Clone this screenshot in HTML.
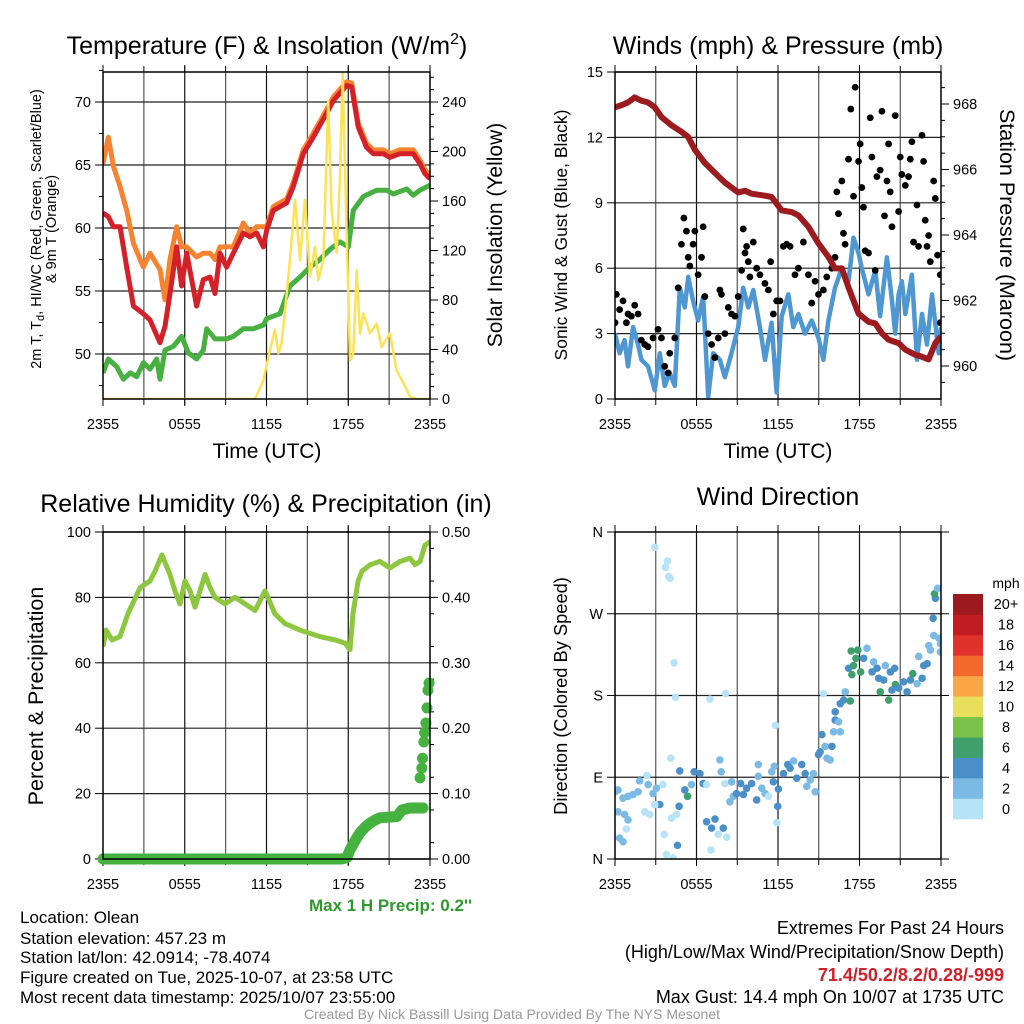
<!DOCTYPE html>
<html><head><meta charset="utf-8"><style>
html,body{margin:0;padding:0;background:#fff;}
svg{display:block;font-family:"Liberation Sans",Arial,sans-serif;}
</style></head><body>
<svg id="c" width="1024" height="1024" viewBox="0 0 1024 1024">
<defs>
<clipPath id="cp1"><rect x="103" y="72" width="327" height="327"/></clipPath>
<clipPath id="cp2"><rect x="615" y="72" width="326" height="327"/></clipPath>
<clipPath id="cp3"><rect x="103" y="532" width="327" height="327"/></clipPath>
<clipPath id="cp4"><rect x="615" y="532" width="326" height="327"/></clipPath>
</defs>
<g id="g1"></g>
<g id="g2"></g>
<g id="g3"></g>
<g id="g4"></g>

<text x="267" y="54" text-anchor="middle" font-size="25">Temperature (F) &amp; Insolation (W/m<tspan dy="-10" font-size="16">2</tspan><tspan dy="10">)</tspan></text>
<text transform="translate(41,229) rotate(-90)" text-anchor="middle" font-size="14.5">2m T, T<tspan dy="3" font-size="11">d</tspan><tspan dy="-3">, HI/WC (Red, Green, Scarlet/Blue)</tspan></text>
<text transform="translate(56,229) rotate(-90)" text-anchor="middle" font-size="14.5">&amp; 9m T (Orange)</text>
<text transform="translate(502,235) rotate(-90)" text-anchor="middle" font-size="21">Solar Insolation (Yellow)</text>
<text x="267" y="458" text-anchor="middle" font-size="21">Time (UTC)</text>

<text x="778" y="54" text-anchor="middle" font-size="25">Winds (mph) &amp; Pressure (mb)</text>
<text transform="translate(567,235) rotate(-90)" text-anchor="middle" font-size="17.5">Sonic Wind &amp; Gust (Blue, Black)</text>
<text transform="translate(1000,235) rotate(90)" text-anchor="middle" font-size="21.5">Station Pressure (Maroon)</text>
<text x="778" y="458" text-anchor="middle" font-size="21">Time (UTC)</text>

<text x="266" y="512" text-anchor="middle" font-size="25">Relative Humidity (%) &amp; Precipitation (in)</text>
<text transform="translate(43,696) rotate(-90)" text-anchor="middle" font-size="21.5">Percent &amp; Precipitation</text>
<text x="472" y="911" text-anchor="end" font-size="17" font-weight="bold" fill="#2e9a2e">Max 1 H Precip: 0.2''</text>

<text x="778" y="505" text-anchor="middle" font-size="25">Wind Direction</text>
<text transform="translate(567,696) rotate(-90)" text-anchor="middle" font-size="18.3">Direction (Colored By Speed)</text>
<g id="cbar"></g>
<text x="1006" y="588" text-anchor="middle" font-size="14">mph</text>

<g font-size="17">
<text x="20" y="923">Location: Olean</text>
<text x="20" y="944">Station elevation: 457.23 m</text>
<text x="20" y="963">Station lat/lon: 42.0914; -78.4074</text>
<text x="20" y="983">Figure created on Tue, 2025-10-07, at 23:58 UTC</text>
<text x="20" y="1003">Most recent data timestamp: 2025/10/07 23:55:00</text>
</g>
<g font-size="18" text-anchor="end">
<text x="1004" y="934">Extremes For Past 24 Hours</text>
<text x="1004" y="958">(High/Low/Max Wind/Precipitation/Snow Depth)</text>
<text x="1004" y="981" font-weight="bold" fill="#d0202a">71.4/50.2/8.2/0.28/-999</text>
<text x="1004" y="1003">Max Gust: 14.4 mph On 10/07 at 1735 UTC</text>
</g>
<text x="512" y="1019" text-anchor="middle" font-size="14" fill="#999">Created By Nick Bassill Using Data Provided By The NYS Mesonet</text>
</svg>
<script>
// ---- Panel 1 data ----
const tempHours=[0,0.39,0.76,1.25,1.74,2.23,2.96,3.45,4.18,4.55,4.92,5.41,5.77,6.14,6.87,7.36,7.85,8.22,8.59,9.07,9.56,10.3,10.79,11.28,11.77,12.01,12.5,13.48,13.97,14.7,15.43,16.41,16.9,17.88,18.25,18.74,19.35,19.84,20.57,21.06,21.8,22.77,23.26,23.63,24];
const tempRed=[61.2,60.9,60.1,60.1,56.9,53.8,53.2,52.7,50.9,52.2,54.8,58.5,55.4,58,53.8,55.9,56.1,54.8,58,56.9,58,59.6,59.3,59.6,58.5,59.8,61.4,62,63.3,65.9,67.2,69.1,70.1,71.3,71.2,68,66.4,65.9,65.9,65.6,65.9,65.9,65.1,64.3,63.9];
const temp9m=[65.1,67.2,64.9,63.3,61.4,58.8,56.9,58,56.7,54.3,57.5,60.1,58.5,58.5,57.7,58,58,57.5,58.5,58.5,58.5,60.4,59.6,60.1,60.1,60.1,61.7,62.3,63.6,66.2,67.5,69.4,70.4,71.6,71.5,68.3,66.7,66.2,66.2,65.9,66.2,66.2,65.4,64.6,64.2];
const dewHours=[0,0.39,1.0,1.5,2.0,2.47,2.96,3.45,3.94,4.18,4.55,5.16,5.77,6.26,6.87,7.36,7.61,8.22,9.07,9.56,10.3,11.03,11.77,12.01,12.99,13.72,14.46,15.19,15.92,16.66,17.39,18.0,18.37,19.11,20.08,20.82,21.31,22.28,22.77,23.26,24];
const dewpoint=[48.5,49.6,49,48,48.5,48.2,49.3,48.8,49.6,48,50.3,50.6,51.4,50.1,49.6,50.3,52,51.2,51.2,51.4,52,52,52.3,52.8,53.2,55.4,56.1,56.9,57.5,58.3,58.9,58.5,61.4,62.5,63,63,62.7,63.1,62.6,63,63.4];
const solarHours=[0,11.15,11.77,12.26,12.62,12.87,13.11,13.48,13.72,14.09,14.46,14.82,15.19,15.56,15.8,16.17,16.53,16.78,17.15,17.39,17.59,17.88,18.13,18.37,18.62,18.86,19.11,19.6,20.08,20.45,21.06,21.55,22.04,22.53,23.02,24];
const solar=[0,0,15,40,56,37,45,85,112,161,112,161,99,123,96,112,241,152,118,179,263,134,31,37,104,53,69,53,61,42,53,23,13,2,0,0];
// ---- Panel 2 data ----
const windHours=[0,0.34,0.71,0.96,1.33,1.7,1.94,2.43,2.93,3.3,3.66,4.03,4.4,4.77,5.14,5.39,5.75,6.12,6.49,6.86,7.23,7.72,8.09,8.58,9.07,9.44,9.81,10.18,10.67,11.04,11.53,11.9,12.27,12.76,13.13,13.5,13.99,14.48,14.98,15.34,15.71,16.2,16.7,17.19,17.56,17.93,18.17,18.66,19.16,19.52,20.02,20.39,20.63,20.88,21.12,21.37,21.86,22.23,22.6,22.97,23.34,23.83,24];
const windSpeed=[3.0,2.1,2.7,1.5,3.3,2.5,1.8,1.5,0.4,2.1,0.6,1.2,0.6,5.1,4.2,5.6,4.5,3.6,4.7,0.1,2.1,1.8,1.0,2.1,3.3,5.1,4.2,5.0,3.3,1.8,3.5,0.3,3.8,4.8,3.3,3.9,3.0,3.6,2.8,1.8,3.6,5.1,6.0,5.4,7.4,6.7,6.0,4.8,5.9,3.8,6.5,4.5,3.0,4.8,5.4,3.9,5.7,1.8,3.9,2.5,4.8,2.1,3.3];
const gustHours=[0,0.1,0.34,0.59,0.84,0.96,1.2,1.45,1.7,1.94,2.19,2.43,2.8,3.17,3.42,3.66,3.91,4.03,4.4,4.65,4.89,5.07,5.26,5.39,5.51,5.75,5.88,6.12,6.37,6.49,6.61,6.86,7.11,7.35,7.6,7.72,7.84,8.09,8.34,8.58,8.83,9.07,9.32,9.44,9.57,9.69,9.81,9.93,10.18,10.43,10.67,11.04,11.29,11.46,11.66,11.9,12.15,12.39,12.64,12.89,13.25,13.5,13.87,14.24,14.48,14.73,14.98,15.34,15.59,15.96,16.2,16.33,16.45,16.7,16.82,16.94,17.19,17.36,17.56,17.68,17.93,18.05,18.17,18.29,18.42,18.66,18.79,18.91,19.16,19.28,19.52,19.65,19.84,20.02,20.14,20.26,20.39,20.63,20.88,21.0,21.12,21.37,21.61,21.74,21.86,21.98,22.23,22.35,22.6,22.72,22.84,22.97,23.09,23.21,23.46,23.58,23.75,23.95,23.95];
const gustSpeed=[3.5,4.8,4.1,4.5,3.5,3.9,3.8,4.3,3.9,2.7,2.5,2.4,2.8,3.2,2.8,1.5,1.2,2.1,2.8,5.1,7.1,8.3,7.7,6.5,6.1,7.1,7.7,5.7,6.5,7.9,4.7,3.0,2.5,1.9,2.8,5.0,4.8,3.0,4.2,3.9,3.8,4.7,5.9,7.8,6.7,7.0,6.3,5.6,7.2,6.0,5.7,5.3,5.0,6.3,3.9,4.5,4.5,7.0,7.1,7.0,5.7,6.0,7.2,5.7,4.4,5.4,4.8,5.0,5.6,6.0,6.5,9.5,8.5,10.0,7.6,7.1,11.0,13.3,9.3,14.3,10.9,11.7,9.7,8.8,6.8,6.7,12.9,11.1,5.9,10.2,10.5,13.2,8.4,10.0,11.7,9.5,7.9,13.0,8.6,11.1,10.3,9.8,10.2,11.0,11.8,7.2,8.9,7.0,12.1,10.9,8.2,7.0,7.5,6.3,10.0,9.2,6.6,5.7,3.5];
const presHours=[0,0.47,0.96,1.45,1.94,2.43,2.93,3.42,4.16,4.89,5.38,5.88,6.61,7.35,8.09,9.07,9.57,10.06,11.04,11.53,12.27,13.01,13.5,14.24,14.98,15.71,16.2,16.7,17.19,17.93,18.66,19.16,19.65,20.14,20.88,21.37,22.11,22.48,23.09,23.58,24];
const pressure=[967.9,967.96,968.05,968.2,968.1,968.05,967.9,967.6,967.35,967.15,967.0,966.6,966.2,965.9,965.6,965.3,965.35,965.26,965.2,965.16,964.75,964.7,964.6,964.25,963.74,963.33,962.98,962.98,962.4,961.6,961.35,961.3,961.0,960.8,960.7,960.5,960.34,960.3,960.2,960.7,960.9];
// ---- Panel 3 data ----
const rhHours=[0,0.22,0.66,1.25,1.83,2.72,3.45,3.82,4.33,4.62,4.92,5.28,5.65,6.02,6.39,6.75,7.12,7.49,7.85,8.22,8.95,9.69,10.42,11.16,11.89,12.62,13.36,14.46,15.93,17.03,17.76,18.13,18.35,18.72,19.01,19.6,20.33,21.06,21.8,22.53,22.9,23.27,23.63,24];
const rh=[65,70,67,68,75,83,85,88,93,90,87,82,78,85,82,77,82,87,83,80,78,80,78,76,82,75,72,70,68,67,66,64,75,85,88,90,91,89,91,92,90,91,96,97];
const precipHours=[0,2,4,6,8,10,12,14,16,17.5,17.9,18.13,18.5,18.86,19.2,19.6,20.0,20.33,21.0,21.58,21.94,22.53,23.0,23.49];
const precip=[0,0,0,0,0,0,0,0,0,0,0.002,0.014,0.028,0.04,0.048,0.055,0.06,0.063,0.064,0.065,0.075,0.078,0.078,0.078];
const stackHours=[23.27,23.4,23.45,23.55,23.6,23.7,23.78,23.85,23.93];
const stackPrecip=[0.124,0.139,0.154,0.179,0.193,0.208,0.231,0.258,0.269];
// ---- Panel 4 data ----
const dirHours=[2.93,3.86,3.71,3.96,4.06,4.35,4.45,6.99,8.14,11.81,4.11,2.36,3.52,0,0.22,0.59,0.96,1.33,1.70,1.82,2.44,2.80,3.05,3.30,0.71,0.96,0.34,0.59,0.22,0.84,2.19,2.56,2.93,4.16,4.53,3.62,3.79,4.28,4.60,4.77,4.72,5.14,5.34,5.63,5.83,6.25,6.49,6.74,6.74,7.36,7.11,7.60,7.97,8.22,7.06,7.72,7.82,8.09,8.59,8.46,8.71,8.95,9.25,9.45,9.69,10.06,10.43,10.55,10.55,10.80,11.05,11.29,11.54,11.73,11.66,12.03,11.98,11.91,12.40,12.72,12.89,13.14,13.38,13.75,14.00,14.12,14.37,14.61,14.74,14.98,15.10,15.23,15.47,15.60,15.84,15.97,16.09,16.21,16.46,16.58,16.21,16.58,16.83,16.95,15.35,17.32,17.20,17.44,17.56,17.74,17.39,17.88,18.08,18.30,18.55,18.92,19.04,19.29,19.41,19.78,19.90,20.27,20.59,20.64,19.53,20.15,20.39,20.89,21.25,21.50,21.75,21.92,22.24,22.36,22.61,22.73,22.98,23.10,23.22,23.47,23.84,23.96,23.96,23.42,23.59,23.52,23.76];
const dirDeg=[343,328,321,311,309,216,178,176,182,147,111,92,82,74,76,67,69,71,74,86,82,72,78,60,49,43,23,19,52,33,52,49,60,45,49,27,5,1,15,97,58,76,69,82,96,94,83,82,41,44,34,27,34,24,10,109,96,83,85,63,69,72,83,71,78,83,65,104,91,78,72,69,96,102,85,77,58,40,94,104,100,108,89,104,94,80,87,94,74,115,118,137,124,111,109,124,140,153,151,140,162,171,175,184,182,174,210,203,213,221,229,230,206,221,232,206,217,210,199,197,213,206,210,192,184,175,186,188,195,184,197,204,193,223,199,213,215,235,230,246,243,237,228,265,287,292,298];
const dirSpeed=[1,1,1,1,1,1,1,1,1,1,1,1,1,3,3,3,3,3,3,3,3,3,3,5,3,3,3,3,3,1,1,1,1,1,1,1,1,1,5,5,5,5,7,3,5,5,5,1,5,5,5,1,5,1,1,3,3,1,3,3,3,5,5,5,5,5,5,3,3,3,3,1,3,3,5,5,5,1,5,5,5,3,5,5,5,3,3,3,3,5,5,5,3,3,3,5,3,5,3,3,5,5,5,3,1,7,5,7,7,7,7,7,7,5,3,5,3,5,5,5,3,5,5,7,7,7,5,5,5,5,5,7,3,3,5,5,5,3,3,3,3,3,3,5,5,7,3];
const cbarLabels=["0","2","4","6","8","10","12","14","16","18","20+"];
const cbarColors=["#b7e3f8","#7bbae5","#4a8fc7","#3fa06c","#7bc24a","#e8e05a","#f9a646","#f26a2b","#e0312a","#c21b24","#9a1a1e"];
const tick1L=[50,55,60,65,70], tick1R=[0,40,80,120,160,200,240];
const tick2L=[0,3,6,9,12,15], tick2R=[960,962,964,966,968];
const tick3L=[0,20,40,60,80,100], tick3R=["0.00","0.10","0.20","0.30","0.40","0.50"];
const dirLabels=["N","E","S","W","N"];
const timeLabels=["2355","0555","1155","1755","2355"];

const NS="http://www.w3.org/2000/svg";
function mk(parent,tag,attrs){const e=document.createElementNS(NS,tag);for(const k in attrs)e.setAttribute(k,attrs[k]);parent.appendChild(e);return e;}
function lin(d0,d1,r0,r1){return v=>r0+(v-d0)/(d1-d0)*(r1-r0);}
function pathOf(xs,ys,fx,fy){return xs.map((h,i)=>(i?'L':'M')+fx(h).toFixed(1)+','+fy(ys[i]).toFixed(1)).join('');}

function frame(g,L,T,R,B,fx){
  for(let h=3;h<24;h+=3){const l=mk(g,'line',{x1:fx(h),x2:fx(h),y1:T,y2:B,stroke:h%6?'#555':'#111','stroke-width':1.2});
    
    mk(g,'line',{x1:fx(h),x2:fx(h),y1:T-6,y2:T,stroke:'#000','stroke-width':1});
    mk(g,'line',{x1:fx(h),x2:fx(h),y1:B,y2:B+6,stroke:'#000','stroke-width':1});}
  timeLabels.forEach((t,i)=>{const x=fx(i*6);const e=mk(g,'text',{x:x,y:B+30,'text-anchor':'middle','font-size':14.5});e.textContent=t;
    
    mk(g,'line',{x1:x,x2:x,y1:B,y2:B+7,stroke:'#000'});mk(g,'line',{x1:x,x2:x,y1:T-7,y2:T,stroke:'#000'});});
}
function hgrid(g,L,R,y){
  const l=mk(g,'line',{x1:L,x2:R,y1:y,y2:y,stroke:'#222','stroke-width':1.2});
  
}
function leftTicks(g,L,vals,fy,minorStep,lo,hi,labels){
  vals.forEach((v,i)=>{const y=fy(v);mk(g,'line',{x1:L-8,x2:L,y1:y,y2:y,stroke:'#000'});
    const t=mk(g,'text',{x:L-12,y:y+5,'text-anchor':'end','font-size':14.5});t.textContent=labels?labels[i]:v;
    });
  if(minorStep)for(let v=lo;v<=hi+1e-9;v+=minorStep){const y=fy(v);mk(g,'line',{x1:L-4,x2:L,y1:y,y2:y,stroke:'#000'});}
}
function rightTicks(g,R,vals,fy,minorStep,lo,hi,labels){
  vals.forEach((v,i)=>{const y=fy(v);mk(g,'line',{x1:R,x2:R+8,y1:y,y2:y,stroke:'#000'});
    if(labels!==null){const t=mk(g,'text',{x:R+12,y:y+5,'font-size':14.5});t.textContent=labels?labels[i]:v;
    }});
  if(minorStep)for(let v=lo;v<=hi+1e-9;v+=minorStep){const y=fy(v);mk(g,'line',{x1:R,x2:R+4,y1:y,y2:y,stroke:'#000'});}
}
function box(g,L,T,R,B){const r=mk(g,'rect',{x:L,y:T,width:R-L,height:B-T,fill:'none',stroke:'#000','stroke-width':1.5});
  }

// Panel 1
(function(){
  const g=document.getElementById('g1');const L=103,T=72,R=430,B=399;
  const fx=lin(0,24,L,R), fy=lin(50,70,354,102), fs=lin(0,240,399,102);
  frame(g,L,T,R,B,fx);
  tick1L.forEach(v=>hgrid(g,L,R,fy(v)));
  leftTicks(g,L,tick1L,fy,2.5,47.5,72.5);
  rightTicks(g,R,tick1R,fs,10,0,260);
  const c=mk(g,'g',{'clip-path':'url(#cp1)'});
  let p=mk(c,'path',{d:pathOf(dewHours,dewpoint,fx,fy),fill:'none',stroke:'#47b041','stroke-width':5,'stroke-linejoin':'round'});
  
  p=mk(c,'path',{d:pathOf(tempHours,temp9m,fx,fy),fill:'none',stroke:'#f5832f','stroke-width':5,'stroke-linejoin':'round'});
  
  p=mk(c,'path',{d:pathOf(tempHours,tempRed,fx,fy),fill:'none',stroke:'#d42029','stroke-width':5,'stroke-linejoin':'round'});
  
  p=mk(c,'path',{d:pathOf(solarHours,solar,fx,fs),fill:'none',stroke:'#fde255','stroke-width':2.5,'stroke-linejoin':'round'});
  
  box(g,L,T,R,B);
})();
// Panel 2
(function(){
  const g=document.getElementById('g2');const L=615,T=72,R=941,B=399;
  const fx=lin(0,24,L,R), fy=lin(0,15,399,72), fp=lin(960,968,366,104);
  frame(g,L,T,R,B,fx);
  tick2L.forEach(v=>hgrid(g,L,R,fy(v)));
  leftTicks(g,L,tick2L,fy,0,0,0);
  rightTicks(g,R,tick2R,fp,0.5,959.5,968.5);
  const c=mk(g,'g',{'clip-path':'url(#cp2)'});
  let p=mk(c,'path',{d:pathOf(windHours,windSpeed,fx,fy),fill:'none',stroke:'#4f97d3','stroke-width':4.5,'stroke-linejoin':'round'});
  
  gustHours.forEach((h,i)=>{const d=mk(c,'circle',{cx:fx(h),cy:fy(gustSpeed[i]),r:3.4,fill:'#000'});
    });
  p=mk(c,'path',{d:pathOf(presHours,pressure,fx,fp),fill:'none',stroke:'#9b1b1e','stroke-width':6,'stroke-linejoin':'round'});
  
  box(g,L,T,R,B);
})();
// Panel 3
(function(){
  const g=document.getElementById('g3');const L=103,T=532,R=430,B=859;
  const fx=lin(0,24,L,R), fy=lin(0,100,859,532), fq=lin(0,0.5,859,532);
  frame(g,L,T,R,B,fx);
  tick3L.forEach(v=>hgrid(g,L,R,fy(v)));
  leftTicks(g,L,tick3L,fy,0,0,0);
  rightTicks(g,R,tick3L,fy,0,0,0,tick3R);
  for(let v=0.025;v<0.5;v+=0.05){const y=fq(v);mk(g,'line',{x1:R,x2:R+4,y1:y,y2:y,stroke:'#000'});}
  const c=mk(g,'g',{'clip-path':'url(#cp3)'});
  let p=mk(c,'path',{d:pathOf(rhHours,rh,fx,fy),fill:'none',stroke:'#8dc63f','stroke-width':5,'stroke-linejoin':'round'});
  
  p=mk(g,'path',{d:pathOf(precipHours,precip,fx,fq),fill:'none',stroke:'#45b23f','stroke-width':11,'stroke-linejoin':'round','stroke-linecap':'round'});
  
  stackHours.forEach((h,i)=>{const d=mk(g,'circle',{cx:fx(h),cy:fq(stackPrecip[i]),r:5.5,fill:'#45b23f'});
    });
  box(g,L,T,R,B);
})();
// Panel 4
(function(){
  const g=document.getElementById('g4');const L=615,T=532,R=941,B=859;
  const fx=lin(0,24,L,R), fy=lin(0,360,859,532);
  frame(g,L,T,R,B,fx);
  [90,180,270].forEach(v=>hgrid(g,L,R,fy(v)));
  leftTicks(g,L,[0,90,180,270,360],fy,0,0,0,dirLabels);
  rightTicks(g,R,[0,90,180,270,360],fy,0,0,0,null);
  const c=mk(g,'g',{'clip-path':'url(#cp4)'});
  dirHours.forEach((h,i)=>{const k=Math.min(10,Math.floor(dirSpeed[i]/2));
    const d=mk(c,'circle',{cx:fx(h),cy:fy(dirDeg[i]),r:3.8,fill:cbarColors[k]});
    });
  box(g,L,T,R,B);
  const cb=document.getElementById('cbar');const bh=(819-594)/11;
  cbarColors.forEach((col,i)=>{const y=819-(i+1)*bh;
    const r=mk(cb,'rect',{x:953,y:y,width:30,height:bh+0.3,fill:col});
    
    const t=mk(cb,'text',{x:1006,y:y+bh/2+5,'text-anchor':'middle','font-size':14.5});t.textContent=cbarLabels[i];
    });
})();
</script>
</body></html>
